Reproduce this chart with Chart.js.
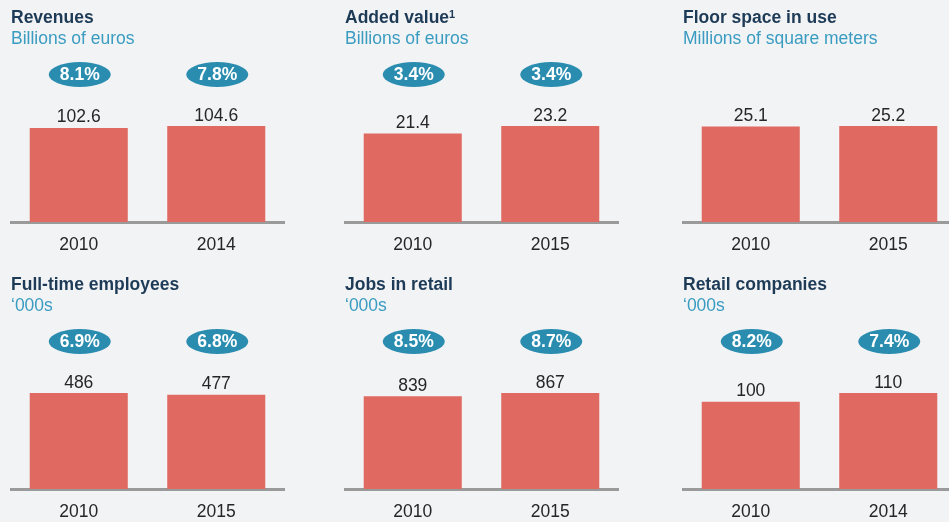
<!DOCTYPE html>
<html>
<head>
<meta charset="utf-8">
<script src="https://cdn.jsdelivr.net/npm/chart.js@4.4.1/dist/chart.umd.min.js"></script>
<style>
  body {
    margin: 0;
    background: #f2f3f5;
    width: 949px;
    height: 522px;
    overflow: hidden;
    position: relative;
    font-family: "Liberation Sans", Arial, sans-serif;
  }
  .panel { position: absolute; width: 275px; height: 270px; }
  .panel canvas { position: absolute; left: 0; top: 0; }
  .title, .sub {
    position: absolute;
    left: 1px;
    font-size: 17.5px;
    line-height: 20px;
    white-space: nowrap;
  }
  .title { top: 7px; font-weight: bold; color: #1d3b56; }
  .title sup { font-size: 11px; vertical-align: 5px; line-height: 0; }
  .sub { top: 28px; color: #3a9cc1; }
</style>
</head>
<body>
<script>
const titles = ["Revenues", "Added value", "Floor space in use", "Full-time employees", "Jobs in retail", "Retail companies"];
const footnotes = ["", "1", "", "", "", ""];
const subtitles = ["Billions of euros", "Billions of euros", "Millions of square meters", "\u2018000s", "\u2018000s", "\u2018000s"];
const years = [["2010", "2014"], ["2010", "2015"], ["2010", "2015"], ["2010", "2015"], ["2010", "2015"], ["2010", "2014"]];
const values = [[102.6, 104.6], [21.4, 23.2], [25.1, 25.2], [486, 477], [839, 867], [100, 110]];
const shares = [["8.1%", "7.8%"], ["3.4%", "3.4%"], [null, null], ["6.9%", "6.8%"], ["8.5%", "8.7%"], ["8.2%", "7.4%"]];

const panelLeft = [10, 344, 682];
const panelTop = [0, 267];

const FONT = "'Liberation Sans', Arial, sans-serif";

// value above each bar plus the teal share pill
const barLabels = {
  id: "barLabels",
  afterDatasetsDraw(chart, args, opts) {
    const ctx = chart.ctx;
    const meta = chart.getDatasetMeta(0);
    ctx.save();
    ctx.textAlign = "center";
    meta.data.forEach((bar, i) => {
      ctx.font = "17.5px " + FONT;
      ctx.fillStyle = "#262626";
      ctx.textBaseline = "alphabetic";
      ctx.fillText(String(opts.values[i]), bar.x, bar.y - 5.5);
      if (opts.shares[i]) {
        ctx.fillStyle = "#2a8db0";
        ctx.beginPath();
        ctx.ellipse(bar.x + 1, opts.pillY, 31, 12.5, 0, 0, Math.PI * 2);
        ctx.fill();
        ctx.font = "bold 17.5px " + FONT;
        ctx.fillStyle = "#ffffff";
        ctx.textBaseline = "middle";
        ctx.fillText(opts.shares[i], bar.x + 1, opts.pillY + 1);
      }
    });
    ctx.restore();
  },
};

titles.forEach((title, k) => {
  const panel = document.createElement("div");
  panel.className = "panel";
  panel.style.left = panelLeft[k % 3] + "px";
  panel.style.top = panelTop[Math.floor(k / 3)] + "px";

  const t = document.createElement("div");
  t.className = "title";
  t.textContent = title;
  if (footnotes[k]) {
    const sup = document.createElement("sup");
    sup.textContent = footnotes[k];
    t.appendChild(sup);
  }
  const s = document.createElement("div");
  s.className = "sub";
  s.textContent = subtitles[k];

  const canvas = document.createElement("canvas");
  canvas.width = 275;
  canvas.height = 270;
  canvas.style.width = "275px";
  canvas.style.height = "270px";

  panel.appendChild(canvas);
  panel.appendChild(t);
  panel.appendChild(s);
  document.body.appendChild(panel);

  const maxVal = Math.max(...values[k]);

  new Chart(canvas, {
    type: "bar",
    data: {
      labels: years[k],
      datasets: [{
        data: values[k],
        backgroundColor: "#e06a61",
        barPercentage: 0.713,
        categoryPercentage: 1,
      }],
    },
    options: {
      responsive: false,
      animation: false,
      events: [],
      layout: { padding: { top: 81, bottom: 1, left: 0, right: 0 } },
      scales: {
        x: {
          grid: { display: false, drawTicks: false },
          border: { display: true, color: "#9a9a9a", width: 3 },
          ticks: {
            color: "#262626",
            padding: 13,
            font: { size: 17.5, family: FONT },
          },
        },
        y: {
          display: false,
          min: 0,
          max: maxVal * 1.47,
        },
      },
      plugins: {
        legend: { display: false },
        tooltip: { enabled: false },
        barLabels: { values: values[k], shares: shares[k], pillY: 74.5 },
      },
    },
    plugins: [barLabels],
  });
});
</script>
</body>
</html>
